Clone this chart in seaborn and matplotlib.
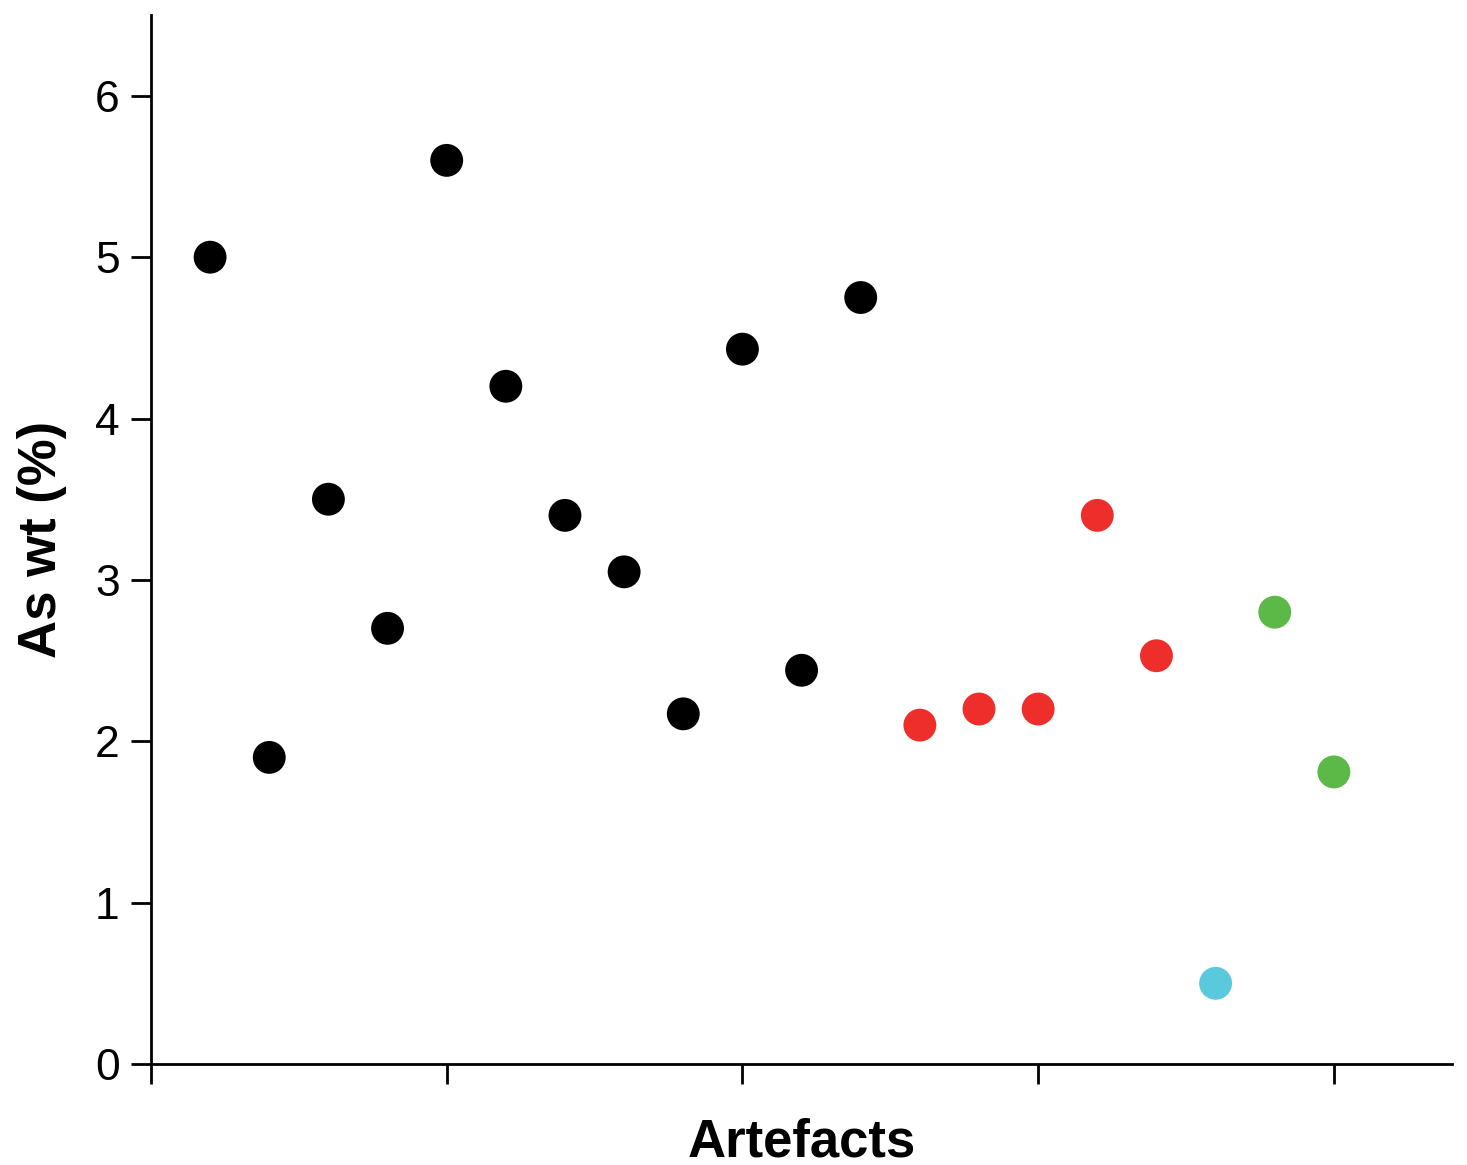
import pandas as pd
import numpy as np
import matplotlib.pyplot as plt
import seaborn as sns

# -------- Data --------
artefact = list(range(1, 21))
as_wt = [5.0, 1.9, 3.5, 2.7, 5.6, 4.2, 3.4, 3.05, 2.17, 4.43,
         2.44, 4.75, 2.1, 2.2, 2.2, 3.4, 2.53, 0.5, 2.8, 1.81]
group = ["A"] * 12 + ["B"] * 5 + ["C"] + ["D"] * 2
palette = {"A": "#000000", "B": "#EE2E2A", "C": "#5BC9DC", "D": "#5DB947"}

df = pd.DataFrame({"Artefacts": artefact, "As": as_wt, "group": group})

# -------- Plot --------
sns.set_style("ticks", {"axes.edgecolor": "black", "text.color": "black",
                        "xtick.color": "black", "ytick.color": "black",
                        "axes.labelcolor": "black"})
plt.rcParams["font.family"] = ["Liberation Sans", "DejaVu Sans"]

fig = plt.figure(figsize=(14.67, 11.65), dpi=100)
ax = fig.add_axes([0.1029, 0.0867, 0.887, 0.9003])

sns.scatterplot(data=df, x="Artefacts", y="As", hue="group", palette=palette,
                s=560, linewidth=0, legend=False, ax=ax)

ax.set_xlim(0, 22)
ax.set_ylim(0, 6.5)
ax.set_xticks([0, 5, 10, 15, 20])
ax.set_xticklabels([])
ax.set_yticks([0, 1, 2, 3, 4, 5, 6])
ax.tick_params(axis="both", length=14.5, width=2, labelsize=32, pad=8,
               colors="black")
for s in ["left", "bottom"]:
    ax.spines[s].set_linewidth(2)
sns.despine(ax=ax)

ax.set_xlabel("Artefacts", fontsize=38, fontweight="bold", labelpad=16)
ax.set_ylabel("As wt (%)", fontsize=38, fontweight="bold", labelpad=20)

fig.savefig("out.png", dpi=100)
